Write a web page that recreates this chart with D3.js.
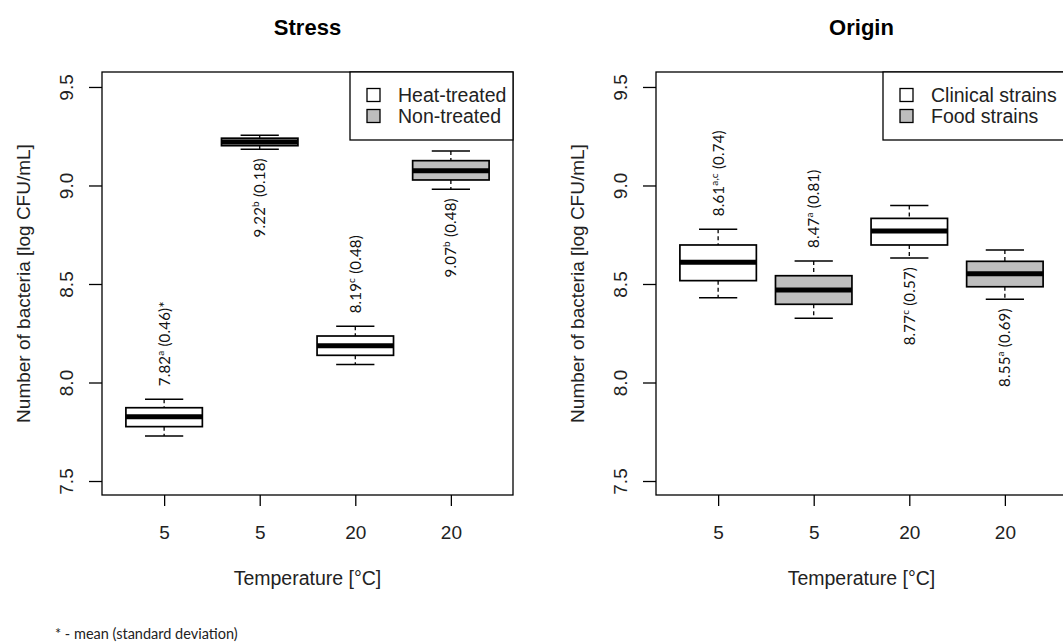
<!DOCTYPE html>
<html>
<head>
<meta charset="utf-8">
<script src="https://cdn.jsdelivr.net/npm/d3@7"></script>
<style>
  body { margin: 0; background: #fff; }
  svg { display: block; font-family: "Liberation Sans", Arial, sans-serif; }
</style>
</head>
<body>
<svg id="viz"></svg>
<script>
// data
const tempLabels = ["5", "5", "20", "20"];

// Stress panel
const stressFill = ["heat", "non", "heat", "non"];
const stressMin = [7.728, 9.184, 8.092, 8.981];
const stressQ1  = [7.776, 9.202, 8.138, 9.028];
const stressMed = [7.826, 9.221, 8.187, 9.075];
const stressQ3  = [7.872, 9.240, 8.236, 9.126];
const stressMax = [7.915, 9.255, 8.285, 9.175];
const stressMean = ["7.82", "9.22", "8.19", "9.07"];
const stressLetter = ["a", "b", "c", "b"];
const stressSd = ["0.46", "0.18", "0.48", "0.48"];
const stressStar = ["*", "", "", ""];
const stressSide = ["above", "below", "above", "below"];
const stressLegend = ["Heat-treated", "Non-treated"];

// Origin panel
const originFill = ["heat", "non", "heat", "non"];
const originMin = [8.430, 8.326, 8.632, 8.422];
const originQ1  = [8.517, 8.397, 8.698, 8.486];
const originMed = [8.610, 8.470, 8.769, 8.552];
const originQ3  = [8.698, 8.542, 8.833, 8.615];
const originMax = [8.778, 8.617, 8.898, 8.673];
const originMean = ["8.61", "8.47", "8.77", "8.55"];
const originLetter = ["a,c", "a", "c", "a"];
const originSd = ["0.74", "0.81", "0.57", "0.69"];
const originStar = ["", "", "", ""];
const originSide = ["above", "above", "below", "below"];
const originLegend = ["Clinical strains", "Food strains"];

const yTicks = [7.5, 8.0, 8.5, 9.0, 9.5];

// 1. svg
const width = 1063, height = 642;
const svg = d3.select("#viz").attr("width", width).attr("height", height);
svg.append("rect").attr("width", width).attr("height", height).attr("fill", "#fff");

const fills = { heat: "#ffffff", non: "#bebebe" };
const plotTop = 72, plotH = 423, plotW = 411;

const y = d3.scaleLinear().domain([7.429, 9.576]).range([plotTop + plotH, plotTop]);

function drawPanel(left, title, legendLabels, legendX, rows) {
  const g = svg.append("g");
  const x = d3.scaleLinear().domain([0.35, 4.65]).range([left, left + plotW]);
  const halfBox = (x(1.4) - x(1)), halfCap = (x(1.2) - x(1));

  // title
  g.append("text").attr("x", left + plotW / 2).attr("y", 35)
    .attr("text-anchor", "middle").attr("font-size", 22).attr("font-weight", "bold")
    .text(title);

  // boxes
  const box = g.selectAll("g.box").data(rows).enter().append("g").attr("class", "box");
  box.append("line")
    .attr("x1", d => x(d.i + 1)).attr("x2", d => x(d.i + 1))
    .attr("y1", d => y(d.max)).attr("y2", d => y(d.q3))
    .attr("stroke", "#000").attr("stroke-width", 1.3).attr("stroke-dasharray", "4,3");
  box.append("line")
    .attr("x1", d => x(d.i + 1)).attr("x2", d => x(d.i + 1))
    .attr("y1", d => y(d.q1)).attr("y2", d => y(d.min))
    .attr("stroke", "#000").attr("stroke-width", 1.3).attr("stroke-dasharray", "4,3");
  box.selectAll("line.cap").data(d => [d.min, d.max].map(v => ({ v: v, i: d.i })))
    .enter().append("line").attr("class", "cap")
    .attr("x1", d => x(d.i + 1) - halfCap).attr("x2", d => x(d.i + 1) + halfCap)
    .attr("y1", d => y(d.v)).attr("y2", d => y(d.v))
    .attr("stroke", "#000").attr("stroke-width", 1.5);
  box.append("rect")
    .attr("x", d => x(d.i + 1) - halfBox).attr("width", 2 * halfBox)
    .attr("y", d => y(d.q3)).attr("height", d => y(d.q1) - y(d.q3))
    .attr("fill", d => fills[d.fill]).attr("stroke", "#000").attr("stroke-width", 1.7);
  box.append("line")
    .attr("x1", d => x(d.i + 1) - halfBox).attr("x2", d => x(d.i + 1) + halfBox)
    .attr("y1", d => y(d.med)).attr("y2", d => y(d.med))
    .attr("stroke", "#000").attr("stroke-width", 5);

  // mean (sd) notes, rotated
  const note = box.append("text")
    .attr("transform", d => {
      const yy = d.side === "above" ? y(d.max) - 13 : y(d.min) + 9;
      return "translate(" + x(d.i + 1) + "," + yy + ") rotate(-90)";
    })
    .attr("text-anchor", d => d.side === "above" ? "start" : "end")
    .attr("dy", "0.36em")
    .attr("font-family", "Lato, 'Open Sans', sans-serif")
    .attr("font-size", 15).attr("letter-spacing", 0.2).attr("fill", "#111");
  note.append("tspan").text(d => d.mean);
  note.append("tspan").attr("font-size", 10).attr("dy", "-0.6em").text(d => d.letter);
  note.append("tspan").attr("dy", "0.4em").text(d => " (" + d.sd + ")" + d.star);

  // plot frame
  g.append("rect").attr("x", left).attr("y", plotTop).attr("width", plotW).attr("height", plotH)
    .attr("fill", "none").attr("stroke", "#000").attr("stroke-width", 1.3);

  // y axis
  const ya = g.append("g").attr("transform", "translate(" + left + ",0)")
    .call(d3.axisLeft(y).tickValues(yTicks).tickFormat(d3.format(".1f")).tickSize(13));
  ya.select(".domain").remove();
  ya.selectAll("line").attr("stroke-width", 1.3);
  ya.selectAll("text")
    .attr("x", null).attr("dy", "0.36em").attr("text-anchor", "middle")
    .attr("transform", "translate(-36,0) rotate(-90)")
    .attr("font-size", 19).attr("fill", "#222");

  // x axis
  const xa = g.append("g").attr("transform", "translate(0," + (plotTop + plotH) + ")")
    .call(d3.axisBottom(x).tickValues([1, 2, 3, 4]).tickFormat(i => tempLabels[i - 1]).tickSize(11));
  xa.select(".domain").remove();
  xa.selectAll("line").attr("stroke-width", 1.3);
  xa.selectAll("text").attr("y", 44).attr("dy", null).attr("font-size", 19).attr("fill", "#222");

  // axis titles
  g.append("text").attr("x", left + plotW / 2).attr("y", 585).attr("text-anchor", "middle")
    .attr("font-size", 19.5).attr("fill", "#222").text("Temperature [°C]");
  g.append("text").attr("transform", "translate(" + (left - 79) + "," + (plotTop + plotH / 2) + ") rotate(-90)")
    .attr("text-anchor", "middle").attr("dy", "0.36em")
    .attr("font-size", 19).attr("fill", "#222").text("Number of bacteria [log CFU/mL]");

  // legend
  const lg = g.append("g");
  lg.append("rect").attr("x", legendX).attr("y", plotTop).attr("width", left + plotW - legendX).attr("height", 68)
    .attr("fill", "#fff").attr("stroke", "#000").attr("stroke-width", 1.3);
  const item = lg.selectAll("g.item").data(legendLabels).enter().append("g")
    .attr("transform", (d, i) => "translate(" + legendX + "," + (plotTop + 23 + i * 21) + ")");
  item.append("rect").attr("x", 17).attr("y", -6.5).attr("width", 13).attr("height", 13)
    .attr("fill", (d, i) => i === 0 ? fills.heat : fills.non).attr("stroke", "#000").attr("stroke-width", 1.3);
  item.append("text").attr("x", 48).attr("dy", "0.36em").attr("font-size", 19.5).attr("fill", "#222").text(d => d);
}

function rowsOf(mn, q1, md, q3, mx, fill, mean, letter, sd, star, side) {
  return mn.map((v, i) => ({
    i: i, min: v, q1: q1[i], med: md[i], q3: q3[i], max: mx[i], fill: fill[i],
    mean: mean[i], letter: letter[i], sd: sd[i], star: star[i], side: side[i]
  }));
}

drawPanel(102, "Stress", stressLegend, 350,
  rowsOf(stressMin, stressQ1, stressMed, stressQ3, stressMax, stressFill,
         stressMean, stressLetter, stressSd, stressStar, stressSide));
drawPanel(656, "Origin", originLegend, 883,
  rowsOf(originMin, originQ1, originMed, originQ3, originMax, originFill,
         originMean, originLetter, originSd, originStar, originSide));

// footnote
svg.append("text").attr("x", 55).attr("y", 639)
  .attr("font-family", "Lato, 'Open Sans', sans-serif").attr("font-size", 14.5).attr("fill", "#222")
  .text("* - mean (standard deviation)");
</script>
</body>
</html>
